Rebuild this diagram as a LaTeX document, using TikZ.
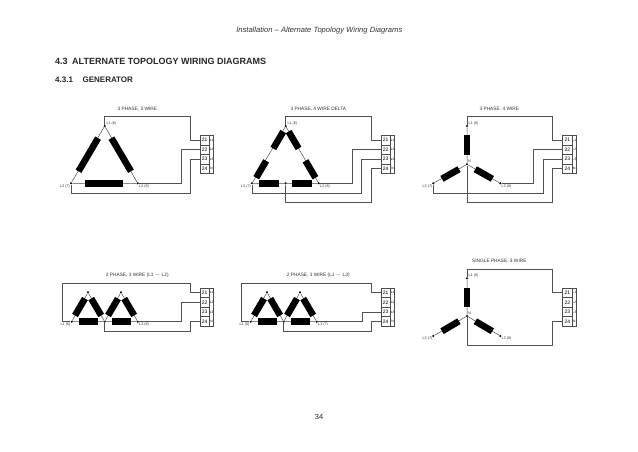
\documentclass[tikz,border=0pt]{standalone}
\usepackage{fontspec}
\setmainfont{Liberation Sans}
\usetikzlibrary{positioning}
\tikzstyle{wire}=[line width=0.8pt,black!68]
\tikzstyle{link}=[line width=0.5pt,black!70]
\tikzstyle{coil}=[rectangle,fill=black,minimum height=6.6pt,inner sep=0pt,outer sep=0pt]
\tikzstyle{longcoil}=[coil,minimum width=38.5pt]
\tikzstyle{shortcoil}=[coil,minimum width=19.6pt]
\tikzstyle{vtx}=[circle,fill=black,inner sep=0pt,minimum size=2.3pt]
\tikzstyle{tname}=[font=\fontsize{4.8}{5}\selectfont,black!80,inner sep=0pt]
\tikzstyle{wname}=[font=\fontsize{3.7}{4}\selectfont,black!80,inner sep=0pt]
\tikzstyle{tnum}=[rectangle,draw=black!70,line width=0.5pt,font=\fontsize{5}{5}\selectfont,minimum width=9.3pt,minimum height=9.6pt,inner sep=0pt,outer sep=0pt]
\tikzstyle{tlab}=[rectangle,font=\fontsize{3.3}{4}\selectfont,minimum width=4pt,minimum height=9.6pt,inner sep=0pt,outer sep=0pt]
% terminal block: name, x of centre, y of first row
\newcommand{\TermBlock}[3]{%
  \foreach \tn/\tt/\tl/\tr in {a/21/L1/0,b/22/L2/9.6,c/23/L3/19.2,d/24/N/28.8}{%
    \node[tnum] (#1\tn) at (#2,#3+\tr) {\tt};
    \node[tlab] (#1\tn l) at (#2+7,#3+\tr) {\tl};
  }
  \draw[link] (#1al.north west) rectangle (#1dl.south east);
}
\begin{document}
\begin{tikzpicture}[x=1pt,y=-1pt]
  \useasboundingbox[fill=white] (0,0) rectangle (638,451);
  \node[font=\fontsize{7.6}{9}\selectfont\itshape,black!80] (header) at (319.3,31) {Installation – Alternate Topology Wiring Diagrams};
  \node[font=\fontsize{9}{10}\selectfont\bfseries,black!85,anchor=west,inner sep=0pt] (section) at (55,61) {4.3\hspace{0.5em}ALTERNATE TOPOLOGY WIRING DIAGRAMS};
  \node[font=\fontsize{8}{9}\selectfont\bfseries,black!85,anchor=west,inner sep=0pt] (subsection) at (55,80) {4.3.1\hspace{1.2em}GENERATOR};
  \node[font=\fontsize{7.4}{9}\selectfont,black!85] (page) at (319,417) {34};

  % 3 phase, 3 wire
  \node[tname] (titlea) at (137.3,108.7) {3 PHASE, 3 WIRE};
  \TermBlock{ta}{204.6}{140}
  \node[vtx] (ua) at (104.7,126) {};
  \node[vtx] (la) at (71,183.3) {};
  \node[vtx] (ra) at (137.7,183.3) {};
  \coordinate (c1a) at (190.3,116.7);
  \coordinate (c2a) at (181,183.3);
  \coordinate (c3a) at (190.3,193);
  \draw[link] (ua) -- (la) -- (ra) -- (ua);
  \draw[wire] (ua) |- (c1a) |- (taa.west);
  \draw[wire] (ra) -- (c2a) |- (tab.west);
  \draw[wire] (la) |- (c3a) |- (tac.west);
  \node[longcoil,rotate=59.5] (coila1) at (88.3,154.7) {};
  \node[longcoil,rotate=-59.5] (coila2) at (121.2,154.7) {};
  \node[longcoil] (coila3) at (104.2,183.3) {};
  \node[wname,anchor=west] (txua) at (106.3,123.3) {L1 (6)};
  \node[wname,anchor=east] (txla) at (70,186.3) {L3 (7)};
  \node[wname,anchor=west] (txra) at (139,186.3) {L2 (8)};

  % 3 phase, 4 wire delta
  \node[tname] (titleb) at (318.3,108.7) {3 PHASE, 4 WIRE DELTA};
  \TermBlock{tb}{385.6}{140}
  \node[vtx] (ub) at (285.7,126) {};
  \node[vtx] (lb) at (252,183.3) {};
  \node[vtx] (rb) at (318.7,183.3) {};
  \node[vtx] (mb) at (285.7,183.3) {};
  \coordinate (c1b) at (371.3,116.7);
  \coordinate (c2b) at (352.3,183.3);
  \coordinate (c3b) at (361.7,193);
  \coordinate (c4b) at (371.3,202.3);
  \draw[link] (ub) -- (lb) -- (rb) -- (ub);
  \draw[wire] (ub) |- (c1b) |- (tba.west);
  \draw[wire] (rb) -- (c2b) |- (tbb.west);
  \draw[wire] (lb) |- (c3b) |- (tbc.west);
  \draw[wire] (mb) |- (c4b) |- (tbd.west);
  \node[shortcoil,rotate=59.5] (coilb1) at (278.3,140) {};
  \node[shortcoil,rotate=59.5] (coilb2) at (261.2,169.3) {};
  \node[shortcoil,rotate=-59.5] (coilb3) at (293.6,140) {};
  \node[shortcoil,rotate=-59.5] (coilb4) at (310.5,169.3) {};
  \node[shortcoil] (coilb5) at (269,183.3) {};
  \node[shortcoil] (coilb6) at (302,183.3) {};
  \node[wname,anchor=west] (txub) at (287.3,123.3) {L1 (6)};
  \node[wname,anchor=east] (txlb) at (251,186.3) {L3 (7)};
  \node[wname,anchor=west] (txrb) at (320,186.3) {L2 (8)};

  % 3 phase, 4 wire
  \node[tname] (titlec) at (499.3,108.7) {3 PHASE, 4 WIRE};
  \TermBlock{tc}{567.3}{140}
  \node[vtx] (uc) at (467,126) {};
  \node[vtx] (lc) at (433.3,183.3) {};
  \node[vtx] (rc) at (500.3,183.3) {};
  \node[vtx] (mc) at (467,164.3) {};
  \coordinate (c1c) at (552.7,116.7);
  \coordinate (c2c) at (533.7,183.3);
  \coordinate (c3c) at (543.3,193);
  \coordinate (c4c) at (552.7,202.3);
  \draw[link] (uc) -- (mc) (lc) -- (mc) -- (rc);
  \draw[wire] (uc) |- (c1c) |- (tca.west);
  \draw[wire] (rc) -- (c2c) |- (tcb.west);
  \draw[wire] (lc) |- (c3c) |- (tcc.west);
  \draw[wire] (mc) |- (c4c) |- (tcd.west);
  \node[shortcoil,rotate=90] (coilc1) at (467,145) {};
  \node[shortcoil,rotate=29.5] (coilc2) at (450.5,174) {};
  \node[shortcoil,rotate=-29.5] (coilc3) at (483.8,174) {};
  \node[wname,anchor=west] (txuc) at (468.5,123.3) {L1 (6)};
  \node[wname,anchor=east] (txlc) at (432.5,186.3) {L3 (7)};
  \node[wname,anchor=west] (txrc) at (501.5,186.3) {L2 (8)};
  \node[wname,anchor=west] (txmc) at (468,161.5) {N};

  % 2 phase, 3 wire (L1 - L2)
  \node[tname] (titled) at (137.3,275.7) {2 PHASE, 3 WIRE (L1 $-$ L2)};
  \TermBlock{td}{204.6}{292.7}
  \node[vtx] (ld) at (71.7,321.7) {};
  \node[vtx] (pd) at (88,292.3) {};
  \node[vtx] (md) at (104.7,321.7) {};
  \node[vtx] (qd) at (121,292.3) {};
  \node[vtx] (rd) at (137.7,321.7) {};
  \coordinate (c0d) at (62.3,321.7);
  \coordinate (c1d) at (190.3,283.3);
  \coordinate (c2d) at (181,321.7);
  \coordinate (c4d) at (190.3,331.3);
  \draw[link] (ld) -- (pd) -- (md) -- (qd) -- (rd) -- (ld);
  \draw[wire] (ld) -- (c0d) |- (c1d) |- (tda.west);
  \draw[wire] (rd) -- (c2d) |- (tdb.west);
  \draw[wire] (md) |- (c4d) |- (tdd.west);
  \foreach \cn/\cx/\cr in {1/80/59.5,2/96.2/-59.5,3/113/59.5,4/129.2/-59.5}
    \node[shortcoil,rotate=\cr] (coild\cn) at (\cx,307) {};
  \node[shortcoil] (coild5) at (88.3,321.7) {};
  \node[shortcoil] (coild6) at (121.3,321.7) {};
  \node[wname,anchor=east] (txld) at (70.5,324.7) {L1 (6)};
  \node[wname,anchor=west] (txrd) at (139,324.7) {L2 (8)};

  % 2 phase, 3 wire (L1 - L3)
  \node[tname] (titlee) at (318.3,275.7) {2 PHASE, 3 WIRE (L1 $-$ L3)};
  \TermBlock{te}{385.6}{292.7}
  \node[vtx] (le) at (250.7,321.7) {};
  \node[vtx] (pe) at (267,292.3) {};
  \node[vtx] (me) at (283.7,321.7) {};
  \node[vtx] (qe) at (300,292.3) {};
  \node[vtx] (re) at (316.7,321.7) {};
  \coordinate (c0e) at (241,321.7);
  \coordinate (c1e) at (371.3,283.3);
  \coordinate (c3e) at (362.7,321.7);
  \coordinate (c4e) at (371.3,331.3);
  \draw[link] (le) -- (pe) -- (me) -- (qe) -- (re) -- (le);
  \draw[wire] (le) -- (c0e) |- (c1e) |- (tea.west);
  \draw[wire] (re) -- (c3e) |- (tec.west);
  \draw[wire] (me) |- (c4e) |- (ted.west);
  \foreach \cn/\cx/\cr in {1/259/59.5,2/275.2/-59.5,3/292/59.5,4/308.2/-59.5}
    \node[shortcoil,rotate=\cr] (coile\cn) at (\cx,307) {};
  \node[shortcoil] (coile5) at (267.3,321.7) {};
  \node[shortcoil] (coile6) at (300.3,321.7) {};
  \node[wname,anchor=east] (txle) at (249.5,324.7) {L1 (6)};
  \node[wname,anchor=west] (txre) at (318,324.7) {L3 (7)};

  % single phase, 3 wire
  \node[tname] (titlef) at (499.3,261) {SINGLE PHASE, 3 WIRE};
  \TermBlock{tf}{567.3}{292.7}
  \node[vtx] (uf) at (467,278.3) {};
  \node[vtx] (lf) at (433.3,336) {};
  \node[vtx] (rf) at (500.3,336) {};
  \node[vtx] (mf) at (467,316) {};
  \coordinate (c1f) at (552.7,269);
  \coordinate (c4f) at (552.7,345.3);
  \draw[link] (uf) -- (mf) (lf) -- (mf) -- (rf);
  \draw[wire] (uf) |- (c1f) |- (tfa.west);
  \draw[wire] (mf) |- (c4f) |- (tfd.west);
  \node[shortcoil,rotate=90] (coilf1) at (467,297.5) {};
  \node[shortcoil,rotate=30.5] (coilf2) at (450.5,326.2) {};
  \node[shortcoil,rotate=-30.5] (coilf3) at (483.8,326.2) {};
  \node[wname,anchor=west] (txuf) at (468.5,275.5) {L1 (6)};
  \node[wname,anchor=east] (txlf) at (432.5,339) {L3 (7)};
  \node[wname,anchor=west] (txrf) at (501.5,339) {L2 (8)};
  \node[wname,anchor=west] (txmf) at (468,313.5) {N};
\end{tikzpicture}
\end{document}
